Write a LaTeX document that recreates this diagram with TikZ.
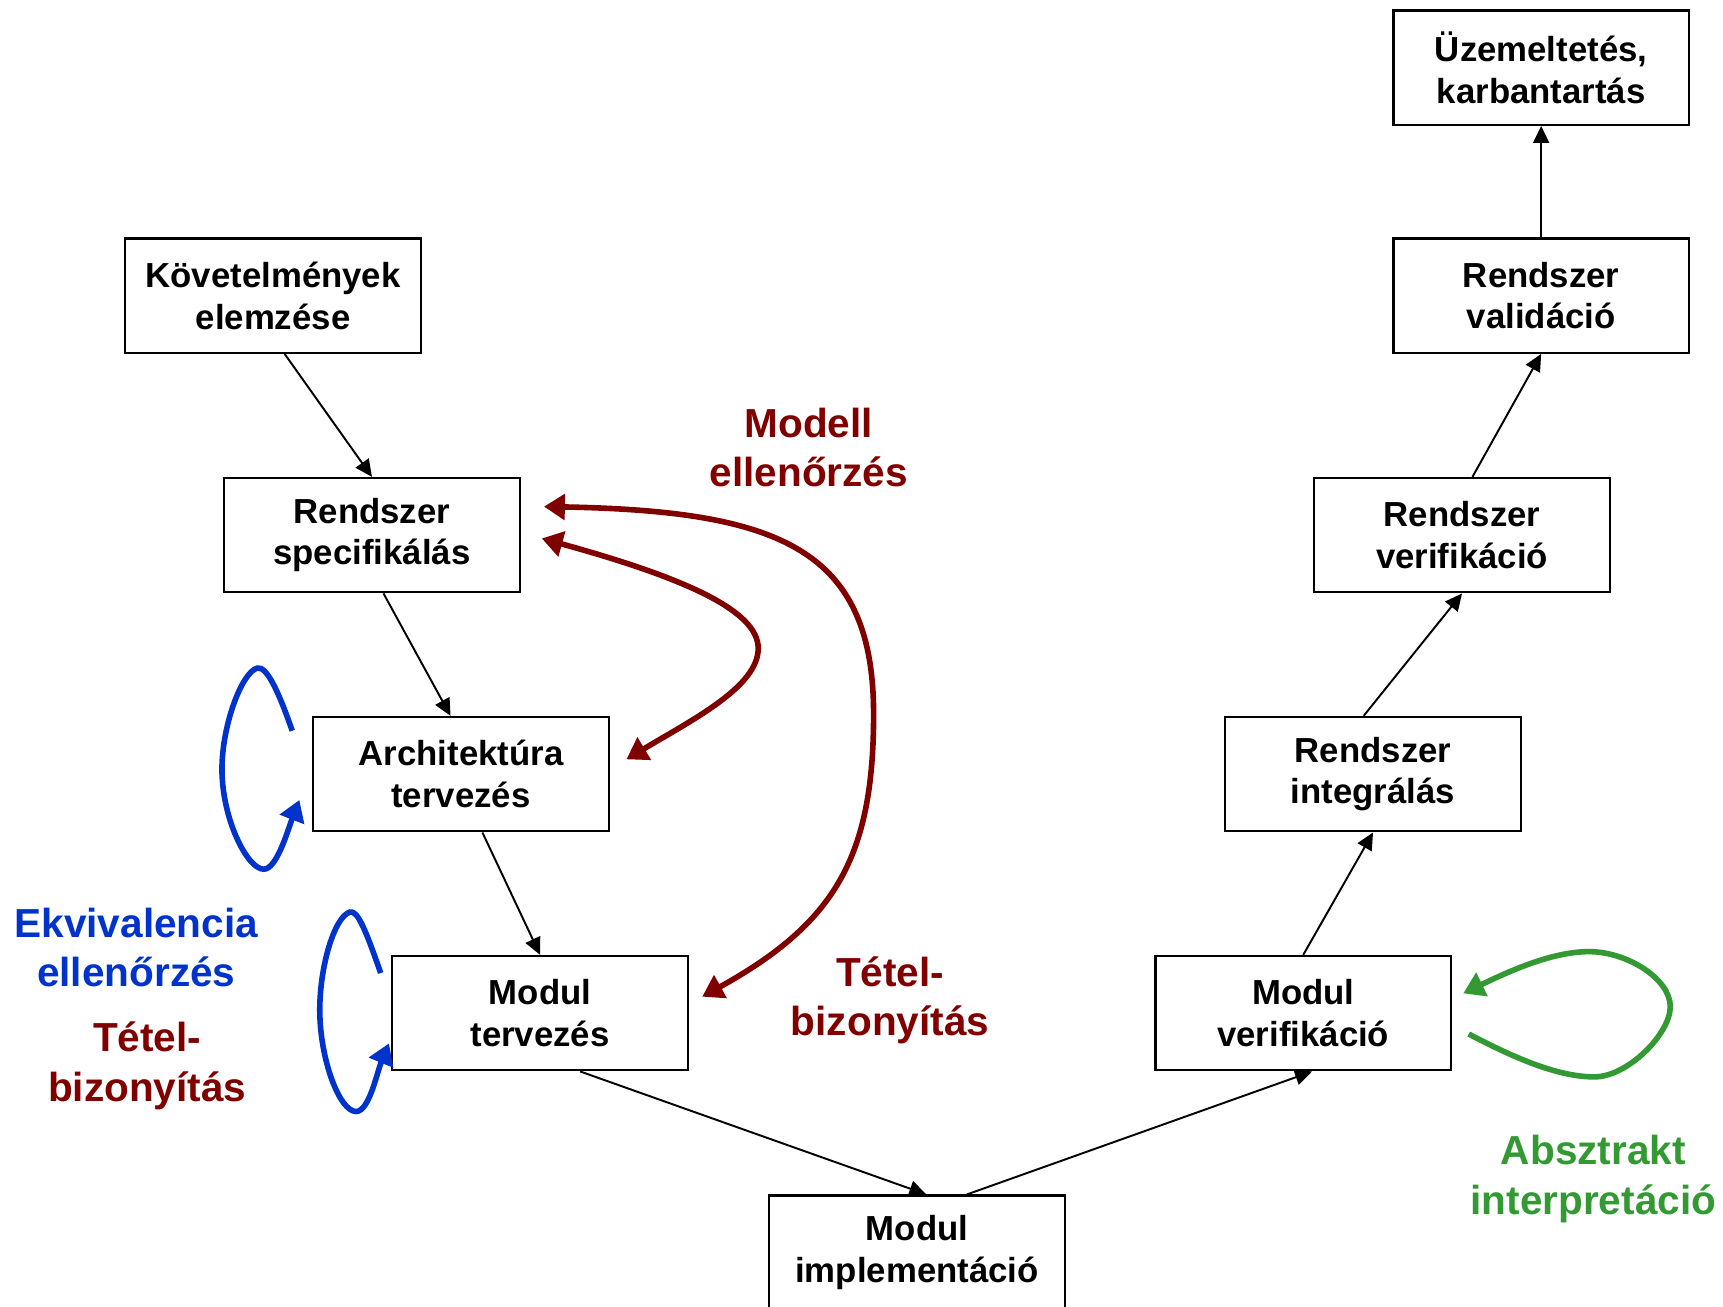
\documentclass[tikz,border=0pt]{standalone}
\usepackage{fontspec}
\setmainfont{Liberation Sans}
\usepackage{xcolor}
\usetikzlibrary{arrows.meta}

\definecolor{mcred}{RGB}{128,0,0}
\definecolor{eqblue}{RGB}{0,51,204}
\definecolor{aigreen}{RGB}{51,153,51}

\begin{document}
\begin{tikzpicture}[
  phase/.style={draw, line width=1.2pt, minimum width=5.38cm, minimum height=2.08cm,
    inner sep=0pt, align=center, font=\fontsize{18}{21.6}\selectfont\bfseries},
  flow/.style={line width=1pt, -{Triangle[length=0.31cm, width=0.29cm]}},
  loopline/.style={line width=2.9pt},
  looptip/.style={-{Triangle[length=0.38cm, width=0.46cm]}},
  bothtips/.style={{Triangle[length=0.38cm, width=0.46cm]}-{Triangle[length=0.38cm, width=0.46cm]}},
  method/.style={align=center, font=\fontsize{21}{25.5}\selectfont\bfseries}
]
  \useasboundingbox (0, 0) rectangle (31.36, -23.78);

  % Phases, left branch
  \node[phase] (kovet) at (4.97, -5.38) {Követelmények\\elemzése};
  \node[phase] (spec) at (6.77, -9.74) {Rendszer\\specifikálás};
  \node[phase] (arch) at (8.39, -14.09) {Architektúra\\tervezés};
  \node[phase] (mterv) at (9.83, -18.44) {Modul\\tervezés};
  % Bottom
  \node[phase] (impl) at (16.69, -22.80) {Modul\\implementáció};
  % Phases, right branch
  \node[phase] (mverif) at (23.72, -18.44) {Modul\\verifikáció};
  \node[phase] (integ) at (24.99, -14.09) {Rendszer\\integrálás};
  \node[phase] (rverif) at (26.61, -9.74) {Rendszer\\verifikáció};
  \node[phase] (valid) at (28.05, -5.38) {Rendszer\\validáció};
  \node[phase] (uzem) at (28.05, -1.23) {Üzemeltetés,\\karbantartás};

  % Flow of the V
  \draw[flow] ([xshift=0.21cm]kovet.south) -- (spec.north);
  \draw[flow] ([xshift=0.21cm]spec.south) -- ([xshift=-0.19cm]arch.north);
  \draw[flow] ([xshift=0.39cm]arch.south) -- (mterv.north);
  \draw[flow] ([xshift=0.73cm]mterv.south) -- ([xshift=0.17cm]impl.north);
  \draw[flow] ([xshift=0.91cm]impl.north) -- ([xshift=0.16cm]mverif.south);
  \draw[flow] (mverif.north) -- (integ.south);
  \draw[flow] ([xshift=-0.17cm]integ.north) -- (rverif.south);
  \draw[flow] ([xshift=0.19cm]rverif.north) -- (valid.south);
  \draw[flow] (valid.north) -- (uzem.south);

  % Method labels
  \node[method, text=mcred] (mclabel) at (14.72, -8.15) {Modell\\ellenőrzés};
  \node[method, text=mcred] (ttright) at (16.20, -18.20) {Tétel-\\bizonyítás};
  \node[method, text=eqblue] (eqlabel) at (2.48, -17.24) {Ekvivalencia\\ellenőrzés};
  \node[method, text=mcred] (ttleft) at (2.68, -19.40) {Tétel-\\bizonyítás};
  \node[method, text=aigreen] (ailabel) at (29.00, -21.46) {Absztrakt\\interpretáció};

  % Model checking links
  \draw[loopline, bothtips, mcred] ([shift={(0.42,0.52)}]spec.east)
     .. controls (14.20, -9.30) and (15.90, -10.00) .. (15.90, -13.00)
     .. controls (15.90, -15.60) and (15.20, -16.80) .. ([shift={(0.24,0.30)}]mterv.east);
  \draw[loopline, bothtips, mcred] ([shift={(0.38,-0.06)}]spec.east)
     .. controls (12.40, -10.50) and (13.80, -11.10) .. (13.80, -11.80)
     .. controls (13.80, -12.50) and (12.60, -13.10) .. ([shift={(0.30,0.27)}]arch.east);

  % Equivalence checking loops
  \draw[loopline, looptip, eqblue] ([shift={(-0.36,0.79)}]arch.west)
     .. controls (5.04, -12.50) and (4.84, -12.12) .. (4.68, -12.16)
     .. controls (4.40, -12.24) and (4.04, -13.20) .. (4.04, -14.00)
     .. controls (4.04, -14.90) and (4.50, -15.82) .. (4.80, -15.82)
     .. controls (5.04, -15.82) and (5.24, -15.10) .. ([shift={(-0.23,-0.47)}]arch.west);
  \draw[loopline, looptip, eqblue] ([shift={(-0.19,0.73)}]mterv.west)
     .. controls (6.66, -16.94) and (6.51, -16.56) .. (6.37, -16.60)
     .. controls (6.09, -16.68) and (5.82, -17.58) .. (5.82, -18.38)
     .. controls (5.82, -19.28) and (6.18, -20.23) .. (6.48, -20.23)
     .. controls (6.72, -20.23) and (6.86, -19.52) .. ([shift={(-0.04,-0.55)}]mterv.west);

  % Abstract interpretation loop
  \draw[loopline, looptip, aigreen] ([shift={(0.30,-0.38)}]mverif.east)
     .. controls (27.50, -19.22) and (28.32, -19.60) .. (29.02, -19.60)
     .. controls (29.62, -19.60) and (30.40, -18.82) .. (30.40, -18.32)
     .. controls (30.40, -17.82) and (29.62, -17.32) .. (28.92, -17.32)
     .. controls (28.22, -17.32) and (27.40, -17.71) .. ([shift={(0.20,0.36)}]mverif.east);
\end{tikzpicture}
\end{document}
